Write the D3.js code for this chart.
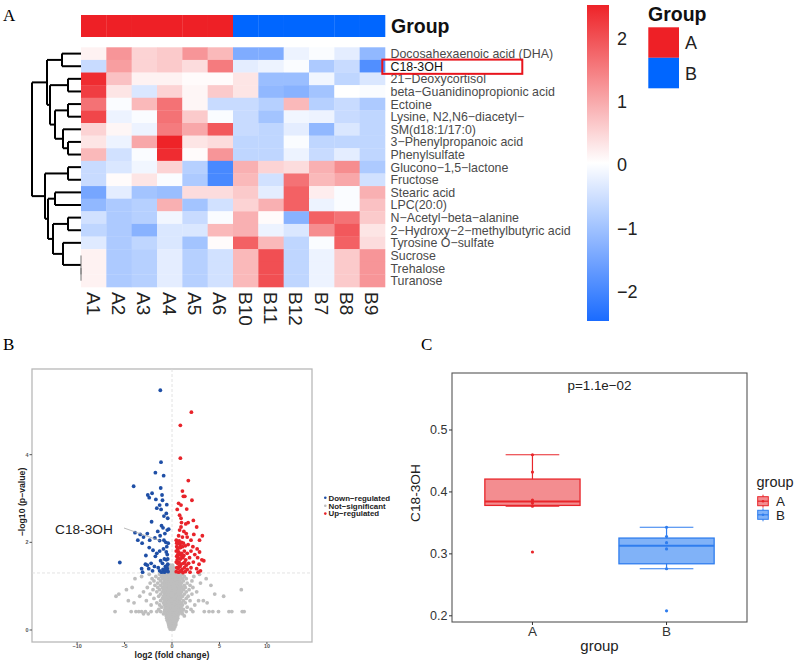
<!DOCTYPE html>
<html>
<head>
<meta charset="utf-8">
<script src="https://cdn.jsdelivr.net/npm/d3@7"></script>
<style>
body { margin: 0; background: #fff; }
text { font-family: "Liberation Sans", Arial, sans-serif; }
.panel-letter { font-family: "Liberation Serif", "Times New Roman", serif; font-size: 17px; }
</style>
</head>
<body>
<svg id="fig" width="795" height="661"></svg>
<script>
// ---------- data: heatmap ----------
const samples = ["A1","A2","A3","A4","A5","A6","B10","B11","B12","B7","B8","B9"];
const sampleGroups = ["A","A","A","A","A","A","B","B","B","B","B","B"];
const metabolites = [
  "Docosahexaenoic acid (DHA)", "C18-3OH", "21\u2212Deoxycortisol",
  "beta\u2212Guanidinopropionic acid", "Ectoine", "Lysine, N2,N6\u2212diacetyl\u2212",
  "SM(d18:1/17:0)", "3\u2212Phenylpropanoic acid", "Phenylsulfate",
  "Glucono\u22121,5\u2212lactone", "Fructose", "Stearic acid", "LPC(20:0)",
  "N\u2212Acetyl\u2212beta\u2212alanine", "2\u2212Hydroxy\u22122\u2212methylbutyric acid",
  "Tyrosine O\u2212sulfate", "Sucrose", "Trehalose", "Turanose"
];
const zScores = [
  [0.15, 1.2, 0.5, 0.6, 1.2, 0.8, -1.4, -1.4, -0.2, -0.05, -0.3, -1.2],
  [-0.6, 1.1, 0.5, 0.6, 0.4, 1.5, -0.3, -0.2, -0.05, -0.9, -0.6, -1.9],
  [2.4, 0.7, 0.15, 0.15, 0.05, 0.05, 0.3, -1.1, -1.1, -0.15, -0.7, -0.4],
  [2.2, 0.3, -0.4, 0.5, 0.1, 0.6, 0.3, -1.2, -1.3, -1.0, 0.0, -0.05],
  [1.6, -0.05, 0.8, 1.6, 0.1, -0.6, -0.6, -0.8, 0.8, -0.8, -0.6, -0.9],
  [2.1, -0.2, -0.05, 1.6, 0.6, -0.05, -0.6, -1.0, -0.15, -0.2, -0.6, -0.7],
  [0.5, 0.1, -0.2, 1.5, 1.0, 1.9, -0.6, -0.7, -0.3, -1.2, -0.4, -0.7],
  [0.3, -0.2, 1.0, 2.5, 0.3, 0.4, -0.7, -0.7, -0.05, -0.7, -0.7, -0.7],
  [0.8, -0.5, -0.05, 2.4, 0.05, 1.2, -0.7, -0.7, -0.2, -0.6, -0.3, -0.7],
  [-0.6, -0.4, -0.15, 0.5, -0.8, -2.0, 0.9, 0.5, 0.4, 0.9, 1.3, -0.9],
  [-0.6, 0.05, 0.3, -0.05, -0.9, -2.0, 0.8, -0.5, 1.6, 0.8, 1.0, -0.5],
  [-1.5, -0.3, -1.0, -1.1, 0.4, 0.4, 0.6, -0.3, 1.8, 0.2, -0.05, 0.9],
  [-1.2, -0.9, -0.8, 0.9, -1.0, -0.5, 0.5, 0.9, 1.8, -0.2, -0.05, 0.7],
  [-0.5, -0.9, -0.8, -0.15, -0.6, -0.05, 0.9, 0.05, -1.3, 1.8, 1.6, 0.6],
  [-0.7, -0.9, -1.3, -0.4, -0.4, 0.8, 0.9, -0.2, -0.4, 1.3, 1.9, 0.3],
  [-0.35, -0.9, -0.7, -0.4, -1.0, 0.05, 1.8, 0.8, -0.7, -0.05, 1.8, 0.4],
  [0.15, -0.9, -0.8, -0.3, -0.8, -0.5, 0.8, 2.0, -0.7, -0.2, 0.6, 1.2],
  [0.15, -0.9, -0.8, -0.3, -0.8, -0.5, 0.8, 2.0, -0.7, -0.2, 0.6, 1.2],
  [0.15, -0.9, -0.8, -0.3, -0.8, -0.5, 0.8, 2.0, -0.7, -0.2, 0.6, 1.2]
];
const legendTicks = [2, 1, 0, -1, -2];
// row dendrogram (h = merge height)
const rowTree = {h: 49, children: [
  {h: 34, children: [
    {h: 19, children: [{leaf: 0}, {leaf: 1}]},
    {h: 31, children: [
      {h: 13, children: [{leaf: 2}, {leaf: 3}]},
      {h: 26, children: [
        {h: 13, children: [{leaf: 4}, {leaf: 5}]},
        {h: 18, children: [{leaf: 6}, {h: 13, children: [{leaf: 7}, {leaf: 8}]}]}
      ]}
    ]}
  ]},
  {h: 36, children: [
    {h: 13, children: [{leaf: 9}, {leaf: 10}]},
    {h: 33, children: [
      {h: 26, children: [{leaf: 11}, {leaf: 12}]},
      {h: 28, children: [
        {h: 13, children: [{leaf: 13}, {leaf: 14}]},
        {h: 18, children: [{leaf: 15}, {h: 0, children: [{leaf: 16}, {h: 0, children: [{leaf: 17}, {leaf: 18}]}]}]}
      ]}
    ]}
  ]}
]};

// ---------- data: volcano ----------
const downRegulated = [
  [-1.23,5.47],[-1.16,3.83],[-1.75,3.59],[-0.88,3.52],[-4.04,3.28],[-1.19,3.24],[-2.55,3.08],[-2.4,3.02],
  [-2.1,3.12],[-1.7,2.98],[-1.05,3.08],[-1.0,2.96],[-1.3,2.85],[-0.55,2.86],[-1.15,2.75],[-0.6,2.66],
  [-0.85,2.6],[-1.6,2.78],[-0.45,2.55],[-2.15,2.47],[-1.1,2.38],[-0.95,2.33],[-0.35,2.3],[-0.5,2.28],
  [-2.6,2.2],[-3.35,2.18],[-3.9,2.22],[-1.5,2.25],[-1.8,2.1],[-0.75,2.2],[-3.0,2.12],[-2.35,2.05],
  [-1.25,2.15],[-0.85,2.05],[-0.65,2.0],[-0.4,1.98],[-3.15,1.98],[-3.6,2.05],[-1.3,2.04],[-2.4,1.88],
  [-2.0,1.82],[-1.6,1.75],[-2.75,1.7],[-1.3,1.8],[-0.9,1.85],[-0.55,1.9],[-0.5,1.72],[-1.75,1.68],
  [-0.8,1.62],[-5.5,1.54],[-2.8,1.5],[-2.6,1.48],[-2.2,1.52],[-1.85,1.45],[-1.2,1.58],[-0.6,1.6],
  [-0.45,1.5],[-1.0,1.52],[-0.7,1.45],[-3.2,1.4],[-3.1,1.32],[-2.45,1.4],[-2.05,1.35],[-1.45,1.42],
  [-1.3,1.35],[-0.95,1.38],[-0.8,1.32],[-0.6,1.35],[-0.5,1.4],[-0.42,1.33],[-0.55,1.45],[-1.1,1.32],
  [-0.7,1.38],[-0.45,1.62],[-0.6,1.78]
];
const upRegulated = [
  [2.04,4.97],[0.88,4.67],[0.88,3.92],[1.72,3.41],[1.1,3.17],[1.2,3.05],[1.35,3.05],[0.7,2.89],
  [0.95,2.85],[2.1,2.96],[0.55,2.75],[1.55,2.76],[0.8,2.62],[0.95,2.55],[2.25,2.5],[1.0,2.45],
  [1.7,2.45],[1.45,2.42],[2.6,2.35],[0.95,2.35],[0.8,2.28],[1.25,2.25],[1.5,2.2],[2.3,2.18],
  [0.7,2.15],[1.1,2.12],[1.6,2.12],[3.2,2.15],[2.0,2.05],[2.9,2.05],[0.45,2.05],[0.55,2.0],
  [0.65,1.98],[0.75,2.03],[0.85,1.95],[1.0,2.0],[1.2,1.98],[0.5,1.9],[0.6,1.85],[0.9,1.88],
  [1.1,1.9],[1.4,1.92],[1.7,1.95],[2.2,1.9],[2.65,1.85],[0.45,1.8],[0.7,1.78],[0.8,1.72],
  [1.0,1.75],[1.3,1.8],[1.6,1.75],[2.0,1.8],[2.4,1.72],[2.9,1.78],[0.5,1.68],[0.65,1.65],
  [0.9,1.62],[1.15,1.65],[1.45,1.6],[1.85,1.65],[2.7,1.65],[3.15,1.6],[3.35,1.58],[0.45,1.55],
  [0.6,1.52],[0.75,1.55],[0.95,1.5],[1.2,1.52],[1.5,1.48],[1.75,1.52],[2.25,1.55],[2.85,1.5],
  [0.5,1.42],[0.65,1.4],[0.85,1.45],[1.05,1.38],[1.3,1.42],[1.6,1.38],[2.0,1.42],[2.6,1.4],
  [3.0,1.35],[0.45,1.33],[0.7,1.32],[0.9,1.34],[1.15,1.31],[1.4,1.33],[1.9,1.32],[2.75,1.32],
  [0.55,1.6],[0.8,1.88],[1.05,1.68],[0.6,1.72],[1.25,1.7],[0.75,1.45],[1.35,1.55],[0.5,1.98]
];
// not significant, listed as [y, x values]
const notSignificantRows = [
  [0.02, [-0.2,0,0.2]],
  [0.07, [-0.3,-0.1,0.1,0.3]],
  [0.12, [-0.35,-0.15,0.05,0.25,0.4]],
  [0.17, [-0.4,-0.2,0,0.2,0.4]],
  [0.22, [-0.5,-0.3,-0.1,0.1,0.3,0.5]],
  [0.27, [-0.55,-0.35,-0.15,0.05,0.25,0.45,0.6]],
  [0.32, [-0.6,-0.4,-0.2,0,0.2,0.4,0.6,1.3]],
  [0.37, [-3.0,-2.5,-0.9,-0.65,-0.45,-0.25,-0.05,0.15,0.35,0.55,0.75,1.1]],
  [0.42, [-6.0,-4.3,-3.8,-3.5,-3.2,-2.8,-2.2,-1.6,-1.2,-0.8,-0.6,-0.4,-0.2,0,0.2,0.4,0.6,0.8,1.05,1.5,2.2,3.4,3.9,4.3,4.9,6.0,6.3,7.4,7.6]],
  [0.47, [-1.4,-0.75,-0.55,-0.35,-0.15,0.05,0.25,0.45,0.65,0.85,1.2,2.0]],
  [0.52, [-1.1,-0.7,-0.5,-0.3,-0.1,0.1,0.3,0.5,0.7,0.95,1.6]],
  [0.57, [-2.2,-1.3,-0.8,-0.6,-0.4,-0.2,0,0.2,0.4,0.6,0.8,1.1,2.4]],
  [0.62, [-4.0,-1.6,-0.9,-0.65,-0.45,-0.25,-0.05,0.15,0.35,0.55,0.75,1.0,1.4,3.7]],
  [0.67, [-4.6,-2.7,-1.2,-0.8,-0.6,-0.4,-0.2,0,0.2,0.4,0.6,0.8,1.2,1.9,2.8,3.3]],
  [0.72, [-1.9,-1.0,-0.75,-0.55,-0.35,-0.15,0.05,0.25,0.45,0.65,0.9,1.5]],
  [0.77, [-5.9,-3.4,-1.4,-0.9,-0.65,-0.45,-0.25,-0.05,0.15,0.35,0.55,0.8,1.1,1.7,5.44]],
  [0.82, [-5.6,-2.3,-1.2,-0.8,-0.6,-0.4,-0.2,0,0.2,0.4,0.6,0.9,1.3,2.1,4.5]],
  [0.87, [-3.0,-1.6,-1.0,-0.7,-0.5,-0.3,-0.1,0.1,0.3,0.5,0.7,1.0,1.5,2.6]],
  [0.92, [-4.8,-2.0,-1.3,-0.9,-0.6,-0.4,-0.2,0,0.2,0.4,0.6,0.85,1.2,1.8,7.3]],
  [0.97, [-4.2,-2.6,-1.5,-1.0,-0.7,-0.5,-0.3,-0.1,0.1,0.3,0.5,0.75,1.05,1.4,2.2]],
  [1.02, [-1.8,-1.2,-0.8,-0.6,-0.4,-0.2,0,0.2,0.4,0.6,0.9,1.3,1.9,4.1]],
  [1.07, [-2.3,-1.5,-1.0,-0.7,-0.5,-0.3,-0.1,0.1,0.3,0.5,0.7,1.0,1.6,3.0]],
  [1.12, [-1.9,-1.2,-0.8,-0.6,-0.4,-0.2,0,0.2,0.4,0.6,0.85,1.2,2.1]],
  [1.17, [-3.9,-2.1,-1.4,-1.0,-0.7,-0.5,-0.3,-0.1,0.1,0.3,0.5,0.75,1.1,1.5,3.6]],
  [1.22, [-3.2,-1.7,-1.1,-0.8,-0.55,-0.35,-0.15,0.05,0.25,0.45,0.65,0.9,1.3,2.3]],
  [1.27, [-2.4,-1.3,-0.9,-0.6,-0.4,-0.2,0,0.2,0.4,0.6,0.8,1.1,2.9]],
  [1.32, [-0.3,-0.1,0.1,0.3]],
  [1.37, [-0.2,0,0.2]],
  [1.42, [-0.3,-0.1,0.15]],
  [1.48, [-0.2,0.05]]
];
const c18Point = [-1.3, 2.04];
const volcanoXTicks = [-10, -5, 0, 5, 10];
const volcanoYTicks = [0, 2, 4];

// ---------- data: boxplot ----------
const boxGroups = ["A", "B"];
const groupAValues = [0.46, 0.432, 0.387, 0.382, 0.377, 0.303];
const groupBValues = [0.343, 0.328, 0.318, 0.308, 0.276, 0.208];
const boxYTicks = [0.2, 0.3, 0.4, 0.5];

// ---------- drawing ----------
const svg = d3.select("#fig");
const groupColor = {A: "#EE2026", B: "#0066FF"};
const minus = d => d < 0 ? "\u2212" + Math.abs(d) : String(d);

svg.append("text").attr("class", "panel-letter").attr("x", 3).attr("y", 21).text("A");
svg.append("text").attr("class", "panel-letter").attr("x", 3).attr("y", 350).text("B");
svg.append("text").attr("class", "panel-letter").attr("x", 421).attr("y", 350).text("C");

// --- heatmap ---
const hmX = d3.scaleBand().domain(samples).range([81, 385]);
const hmY = d3.scaleBand().domain(metabolites).range([47.3, 287]);
const zColor = d3.scaleLinear().domain([-2.5, 0, 2.5]).range(["#1A6BFF", "#FFFFFF", "#EE2328"]);

svg.append("g").selectAll("rect").data(samples).join("rect")
  .attr("x", d => hmX(d)).attr("y", 15)
  .attr("width", hmX.bandwidth() + 0.3).attr("height", 22)
  .attr("fill", (d, i) => groupColor[sampleGroups[i]]);
svg.append("text").attr("x", 391).attr("y", 33)
  .style("font-size", "19.5px").style("font-weight", "bold").attr("fill", "#111").text("Group");

const cells = [];
zScores.forEach((row, i) => row.forEach((v, j) => cells.push({r: metabolites[i], c: samples[j], v})));
svg.append("g").selectAll("rect").data(cells).join("rect")
  .attr("x", d => hmX(d.c)).attr("y", d => hmY(d.r))
  .attr("width", hmX.bandwidth() + 0.3).attr("height", hmY.bandwidth() + 0.3)
  .attr("fill", d => zColor(d.v));

svg.append("g").selectAll("text").data(metabolites).join("text")
  .attr("x", 390.5).attr("y", d => hmY(d) + hmY.bandwidth() / 2).attr("dy", "0.36em")
  .style("font-size", "12.4px").attr("fill", d => d === "C18-3OH" ? "#111" : "#4a4a4a")
  .text(d => d);
svg.append("rect").attr("x", 382.3).attr("y", hmY("C18-3OH") - 0.3)
  .attr("width", 140).attr("height", hmY.bandwidth() + 1.6)
  .attr("fill", "none").attr("stroke", "#E8141C").attr("stroke-width", 2);

svg.append("g").selectAll("text").data(samples).join("text")
  .attr("transform", d => `translate(${hmX(d) + hmX.bandwidth() / 2},292) rotate(90)`)
  .attr("dy", "0.36em").style("font-size", "19px").attr("fill", "#222").text(d => d);

// dendrogram
const dendX = d3.scaleLinear().domain([0, 49]).range([81, 32]);
const root = d3.hierarchy(rowTree);
root.eachAfter(n => {
  if (n.data.leaf !== undefined) { n.yy = hmY(metabolites[n.data.leaf]) + hmY.bandwidth() / 2; n.hh = 0; }
  else { n.yy = d3.mean(n.children, c => c.yy); n.hh = n.data.h; }
});
const dend = svg.append("g").attr("fill", "none");
root.descendants().filter(n => n.children).forEach(n => {
  const x0 = dendX(n.hh);
  const ys = n.children.map(c => c.yy);
  dend.append("line").attr("x1", x0).attr("x2", x0).attr("y1", d3.min(ys)).attr("y2", d3.max(ys))
    .attr("stroke", n.hh === 0 ? "#777" : "#000").attr("stroke-width", n.hh === 0 ? 1 : 2);
  n.children.forEach(c => {
    if (dendX(c.hh) - x0 > 0.1)
      dend.append("line").attr("x1", x0).attr("x2", dendX(c.hh)).attr("y1", c.yy).attr("y2", c.yy)
        .attr("stroke", "#000").attr("stroke-width", 2);
  });
});

// colour legend
const cbY = d3.scaleLinear().domain([-2.5, 2.5]).range([321, 5]);
const grad = svg.append("defs").append("linearGradient").attr("id", "zgrad")
  .attr("x1", 0).attr("y1", 1).attr("x2", 0).attr("y2", 0);
d3.range(-2.5, 2.51, 0.25).forEach(v => grad.append("stop")
  .attr("offset", (v + 2.5) / 5).attr("stop-color", zColor(v)));
svg.append("rect").attr("x", 587).attr("y", 5).attr("width", 22).attr("height", 316).attr("fill", "url(#zgrad)");
svg.append("g").selectAll("text").data(legendTicks).join("text")
  .attr("x", 617).attr("y", d => cbY(d) + 2).attr("dy", "0.36em")
  .style("font-size", "18px").attr("fill", "#222").text(minus);

// group legend
svg.append("text").attr("x", 648).attr("y", 21)
  .style("font-size", "19.5px").style("font-weight", "bold").attr("fill", "#111").text("Group");
const legGroups = ["A", "B"];
svg.append("g").selectAll("rect").data(legGroups).join("rect")
  .attr("x", 648.3).attr("y", (d, i) => 27.3 + i * 30.5).attr("width", 30.7).attr("height", 30.5)
  .attr("fill", d => groupColor[d]);
svg.append("g").selectAll("text").data(legGroups).join("text")
  .attr("x", 685).attr("y", (d, i) => 43 + i * 30.5).attr("dy", "0.36em")
  .style("font-size", "18px").attr("fill", "#222").text(d => d);

// --- volcano ---
const vx = d3.scaleLinear().domain([-14.75, 14.75]).range([32, 312]);
const vy = d3.scaleLinear().domain([-0.274, 5.955]).range([642, 369]);
const nsPoints = notSignificantRows.flatMap(([y, xs]) => xs.map(x => [x, y]));
const vol = svg.append("g");
vol.append("rect").attr("x", 32).attr("y", 369).attr("width", 280).attr("height", 273)
  .attr("fill", "#fff").attr("stroke", "#B8B8B8").attr("stroke-width", 1.3);
vol.append("line").attr("x1", 32).attr("x2", 312).attr("y1", vy(-Math.log10(0.05))).attr("y2", vy(-Math.log10(0.05)))
  .attr("stroke", "#DADADA").attr("stroke-width", 0.8).attr("stroke-dasharray", "3,2");
vol.append("line").attr("x1", vx(0)).attr("x2", vx(0)).attr("y1", 369).attr("y2", 642)
  .attr("stroke", "#DADADA").attr("stroke-width", 0.8).attr("stroke-dasharray", "3,2");
const drawPts = (pts, col) => vol.append("g").selectAll("circle").data(pts).join("circle")
  .attr("cx", d => vx(d[0])).attr("cy", d => vy(d[1])).attr("r", 1.9).attr("fill", col);
drawPts(nsPoints, "#BEBEBE");
drawPts(downRegulated, "#1F4FA6");
drawPts(upRegulated, "#E8232A");
vol.append("line").attr("x1", 124).attr("y1", 528).attr("x2", vx(c18Point[0])).attr("y2", vy(c18Point[1]))
  .attr("stroke", "#A8A8A8").attr("stroke-width", 0.8);
vol.append("text").attr("x", 55).attr("y", 529).attr("dy", "0.36em")
  .style("font-size", "13.7px").attr("fill", "#222").text("C18-3OH");
vol.append("g").selectAll("line").data(volcanoXTicks).join("line")
  .attr("x1", d => vx(d)).attr("x2", d => vx(d)).attr("y1", 642).attr("y2", 644).attr("stroke", "#555");
vol.append("g").selectAll("text").data(volcanoXTicks).join("text")
  .attr("x", d => vx(d)).attr("y", 648.3).attr("text-anchor", "middle")
  .style("font-size", "5.4px").style("font-weight", "bold").attr("fill", "#555").text(minus);
vol.append("g").selectAll("line").data(volcanoYTicks).join("line")
  .attr("x1", 29.5).attr("x2", 32).attr("y1", d => vy(d)).attr("y2", d => vy(d)).attr("stroke", "#555");
vol.append("g").selectAll("text").data(volcanoYTicks).join("text")
  .attr("x", 28.5).attr("y", d => vy(d)).attr("dy", "0.36em").attr("text-anchor", "end")
  .style("font-size", "5.4px").style("font-weight", "bold").attr("fill", "#555").text(d => d);
vol.append("text").attr("x", 172).attr("y", 657.5).attr("text-anchor", "middle")
  .style("font-size", "8.7px").style("font-weight", "bold").attr("fill", "#222").text("log2 (fold change)");
vol.append("text").attr("transform", "translate(24.5,502) rotate(-90)").attr("text-anchor", "middle")
  .style("font-size", "8.7px").style("font-weight", "bold").attr("fill", "#222").text("\u2212log10 (p\u2212value)");
const volLegend = [["Down\u2212regulated", "#1F4FA6"], ["Not\u2212significant", "#BEBEBE"], ["Up\u2212regulated", "#E8232A"]];
const vl = vol.append("g").selectAll("g").data(volLegend).join("g")
  .attr("transform", (d, i) => `translate(325.3,${497.8 + i * 7.9})`);
vl.append("circle").attr("r", 1.3).attr("fill", d => d[1]);
vl.append("text").attr("x", 3.2).attr("dy", "0.36em").style("font-size", "7.9px")
  .style("font-weight", "bold").attr("fill", "#222").text(d => d[0]);

// --- boxplot ---
const bx = d3.scalePoint().domain(boxGroups).range([452, 747]).padding(0.6);
const by = d3.scaleLinear().domain([0.19, 0.592]).range([622, 373]);
const boxStroke = {A: "#E8262B", B: "#2F7DEE"};
const boxFill = {A: "#F38D90", B: "#80B2F8"};
const boxData = [["A", groupAValues], ["B", groupBValues]].map(([g, vals]) => {
  const s = vals.slice().sort(d3.ascending);
  const q1 = d3.quantile(s, 0.25), med = d3.quantile(s, 0.5), q3 = d3.quantile(s, 0.75);
  const iqr = q3 - q1;
  const lo = d3.min(s.filter(v => v >= q1 - 1.5 * iqr));
  const hi = d3.max(s.filter(v => v <= q3 + 1.5 * iqr));
  return {g, vals: s, q1, med, q3, lo, hi};
});
const bp = svg.append("g");
bp.append("rect").attr("x", 452).attr("y", 373).attr("width", 295).attr("height", 249)
  .attr("fill", "#fff").attr("stroke", "#555").attr("stroke-width", 1.1);
const boxW = bx.step() * 0.71, capW = bx.step() * 0.4;
const bg = bp.selectAll("g.box").data(boxData).join("g").attr("class", "box");
bg.append("line").attr("x1", d => bx(d.g)).attr("x2", d => bx(d.g))
  .attr("y1", d => by(d.hi)).attr("y2", d => by(d.lo)).attr("stroke", d => boxStroke[d.g]).attr("stroke-width", 1.2);
bg.append("line").attr("x1", d => bx(d.g) - capW / 2).attr("x2", d => bx(d.g) + capW / 2)
  .attr("y1", d => by(d.hi)).attr("y2", d => by(d.hi)).attr("stroke", d => boxStroke[d.g]).attr("stroke-width", 1.2);
bg.append("line").attr("x1", d => bx(d.g) - capW / 2).attr("x2", d => bx(d.g) + capW / 2)
  .attr("y1", d => by(d.lo)).attr("y2", d => by(d.lo)).attr("stroke", d => boxStroke[d.g]).attr("stroke-width", 1.2);
bg.append("rect").attr("x", d => bx(d.g) - boxW / 2).attr("width", boxW)
  .attr("y", d => by(d.q3)).attr("height", d => by(d.q1) - by(d.q3))
  .attr("fill", d => boxFill[d.g]).attr("stroke", d => boxStroke[d.g]).attr("stroke-width", 1.3);
bg.append("line").attr("x1", d => bx(d.g) - boxW / 2).attr("x2", d => bx(d.g) + boxW / 2)
  .attr("y1", d => by(d.med)).attr("y2", d => by(d.med)).attr("stroke", d => boxStroke[d.g]).attr("stroke-width", 2);
bg.each(function(d) {
  d3.select(this).selectAll("circle").data(d.vals).join("circle")
    .attr("cx", bx(d.g)).attr("cy", v => by(v)).attr("r", 1.6).attr("fill", boxStroke[d.g]);
});
bp.append("g").selectAll("line").data(boxYTicks).join("line")
  .attr("x1", 449).attr("x2", 452).attr("y1", d => by(d)).attr("y2", d => by(d)).attr("stroke", "#333");
bp.append("g").selectAll("text").data(boxYTicks).join("text")
  .attr("x", 447.5).attr("y", d => by(d)).attr("dy", "0.36em").attr("text-anchor", "end")
  .style("font-size", "12.5px").attr("fill", "#333").text(d => d.toFixed(1));
bp.append("g").selectAll("line").data(boxGroups).join("line")
  .attr("x1", d => bx(d)).attr("x2", d => bx(d)).attr("y1", 622).attr("y2", 625).attr("stroke", "#333");
bp.append("g").selectAll("text").data(boxGroups).join("text")
  .attr("x", d => bx(d)).attr("y", 635.5).attr("text-anchor", "middle")
  .style("font-size", "13.5px").attr("fill", "#333").text(d => d);
bp.append("text").attr("x", 599.5).attr("y", 650.5).attr("text-anchor", "middle")
  .style("font-size", "15px").attr("fill", "#222").text("group");
bp.append("text").attr("transform", "translate(420,493) rotate(-90)").attr("text-anchor", "middle")
  .style("font-size", "13.7px").attr("fill", "#222").text("C18-3OH");
bp.append("text").attr("x", 599.5).attr("y", 385).attr("dy", "0.36em").attr("text-anchor", "middle")
  .style("font-size", "13.4px").attr("fill", "#222").text("p=1.1e\u221202");
bp.append("text").attr("x", 756.5).attr("y", 487)
  .style("font-size", "14.5px").attr("fill", "#222").text("group");
const bl = bp.selectAll("g.leg").data(boxGroups).join("g").attr("class", "leg")
  .attr("transform", (d, i) => `translate(763,${501.2 + i * 13.6})`);
bl.append("line").attr("y1", -6.5).attr("y2", 6.5).attr("stroke", d => boxStroke[d]).attr("stroke-width", 1);
bl.append("rect").attr("x", -5.3).attr("y", -4.5).attr("width", 10.6).attr("height", 9)
  .attr("fill", d => boxFill[d]).attr("stroke", d => boxStroke[d]).attr("stroke-width", 1);
bl.append("line").attr("x1", -5.3).attr("x2", 5.3).attr("stroke", d => boxStroke[d]).attr("stroke-width", 1.2);
bl.append("circle").attr("r", 1.3).attr("fill", d => boxStroke[d]);
bl.append("text").attr("x", 13).attr("dy", "0.36em").style("font-size", "13.4px").attr("fill", "#222").text(d => d);
</script>
</body>
</html>
